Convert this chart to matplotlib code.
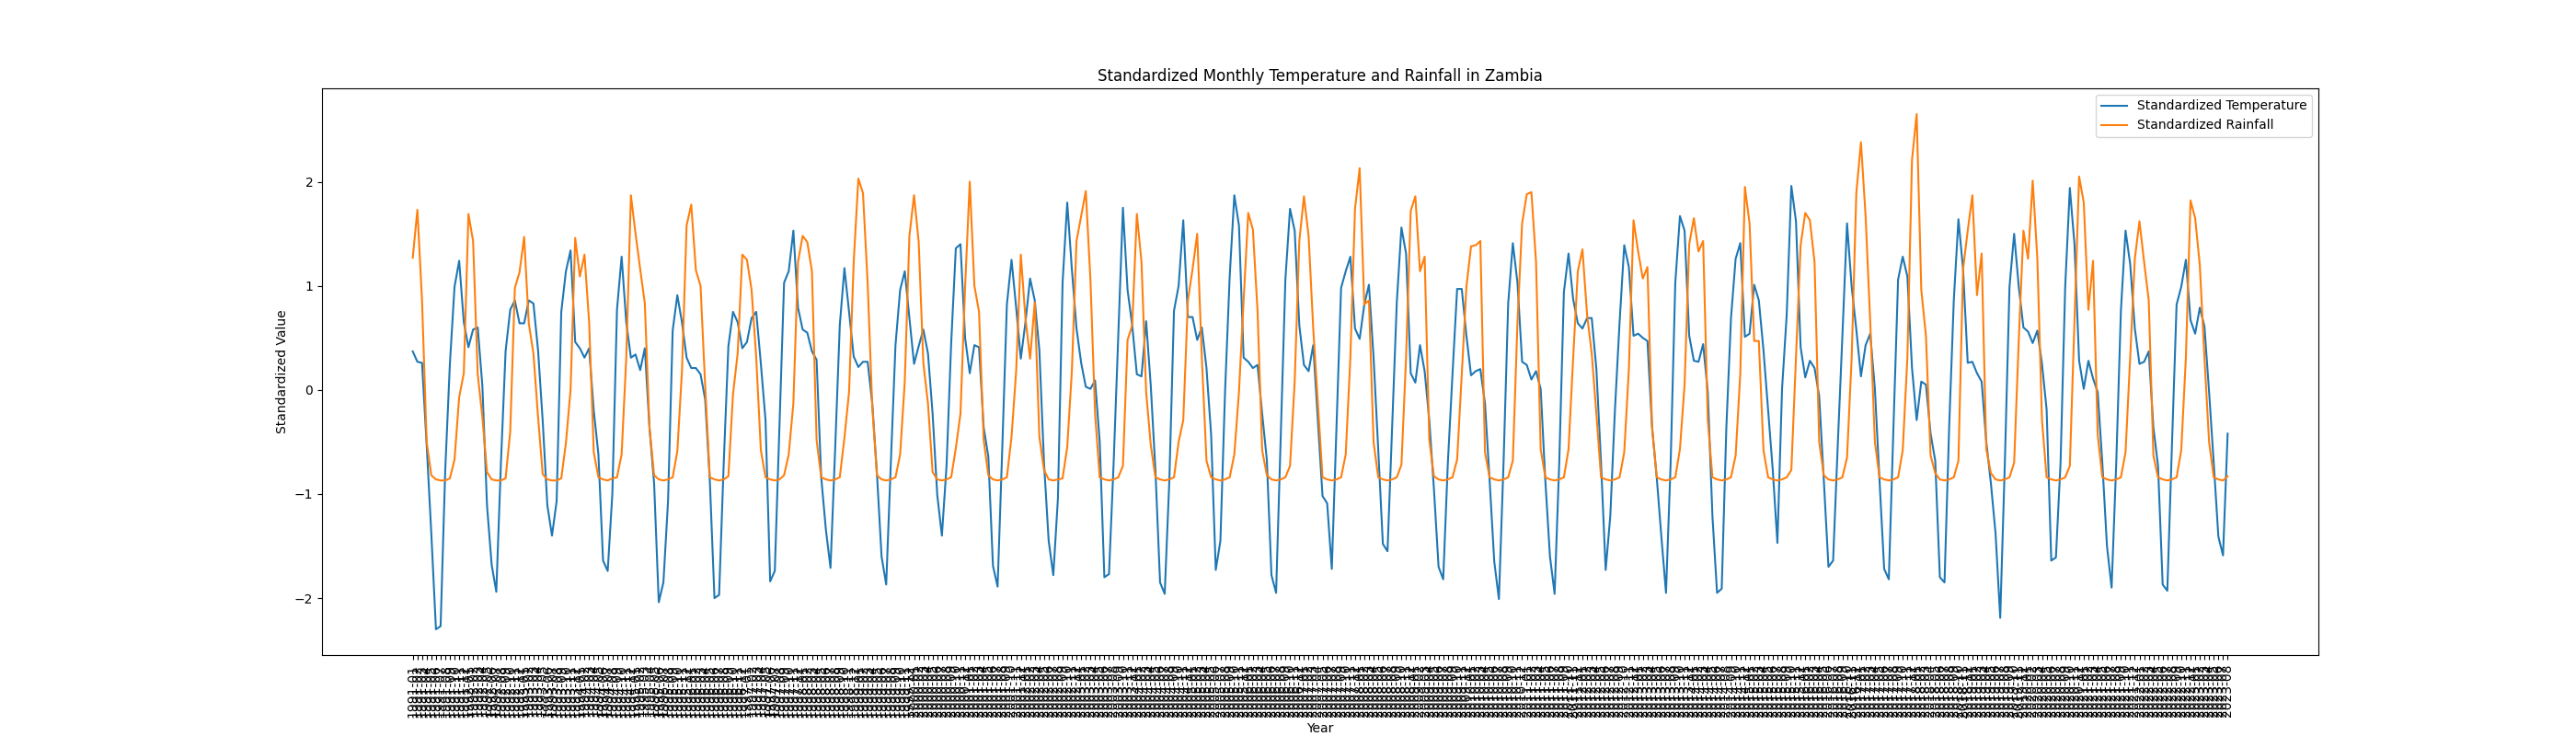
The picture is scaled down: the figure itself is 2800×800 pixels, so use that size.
import numpy as np
import pandas as pd
import matplotlib
matplotlib.use("Agg")
import matplotlib.pyplot as plt

# Monthly dates, Jan 1991 - Aug 2023
dates = pd.date_range("1991-01-01", "2023-08-01", freq="MS").strftime("%Y-%m").tolist()

# standardized temperature (one row per year)
temperature = [
    0.37, 0.27, 0.26, -0.53, -1.38, -2.30, -2.27, -0.77, 0.25, 0.99, 1.24, 0.65,
    0.41, 0.58, 0.60, 0.04, -1.11, -1.68, -1.94, -0.70, 0.37, 0.77, 0.86, 0.64,
    0.64, 0.86, 0.83, 0.38, -0.30, -1.11, -1.40, -1.07, 0.75, 1.14, 1.34, 0.46,
    0.40, 0.31, 0.40, -0.20, -0.62, -1.64, -1.74, -1.00, 0.77, 1.28, 0.65, 0.31,
    0.34, 0.19, 0.40, -0.36, -0.90, -2.04, -1.85, -1.07, 0.57, 0.91, 0.65, 0.31,
    0.21, 0.21, 0.15, -0.09, -0.87, -2.00, -1.97, -0.70, 0.42, 0.75, 0.65, 0.40,
    0.46, 0.69, 0.75, 0.25, -0.29, -1.84, -1.74, -0.36, 1.03, 1.14, 1.53, 0.79,
    0.58, 0.55, 0.37, 0.29, -0.84, -1.34, -1.71, -0.57, 0.62, 1.17, 0.75, 0.32,
    0.22, 0.27, 0.27, -0.13, -0.80, -1.60, -1.87, -0.70, 0.43, 0.96, 1.14, 0.69,
    0.25, 0.42, 0.58, 0.35, -0.23, -1.01, -1.40, -0.73, 0.45, 1.36, 1.40, 0.50,
    0.16, 0.43, 0.41, -0.36, -0.64, -1.69, -1.89, -0.57, 0.82, 1.25, 0.79, 0.30,
    0.65, 1.07, 0.86, 0.38, -0.70, -1.45, -1.78, -1.04, 1.03, 1.80, 1.16, 0.59,
    0.26, 0.03, 0.01, 0.09, -0.50, -1.80, -1.77, -0.70, 0.52, 1.75, 0.96, 0.62,
    0.15, 0.13, 0.66, 0.04, -0.77, -1.85, -1.96, -0.87, 0.76, 1.00, 1.63, 0.70,
    0.70, 0.48, 0.60, 0.21, -0.43, -1.73, -1.45, -0.02, 1.09, 1.87, 1.58, 0.31,
    0.27, 0.21, 0.24, -0.23, -0.67, -1.78, -1.95, -0.43, 1.06, 1.74, 1.53, 0.62,
    0.24, 0.18, 0.43, -0.29, -1.02, -1.09, -1.72, -0.36, 0.98, 1.14, 1.28, 0.59,
    0.49, 0.82, 1.01, 0.31, -0.57, -1.48, -1.55, -0.36, 0.84, 1.56, 1.31, 0.16,
    0.07, 0.43, 0.18, -0.29, -0.95, -1.70, -1.82, -0.70, 0.15, 0.97, 0.97, 0.52,
    0.14, 0.18, 0.20, -0.13, -0.87, -1.65, -2.01, -0.70, 0.83, 1.41, 1.03, 0.27,
    0.24, 0.10, 0.18, 0.01, -0.87, -1.60, -1.96, -0.70, 0.94, 1.31, 0.87, 0.64,
    0.59, 0.69, 0.69, 0.20, -0.70, -1.73, -1.21, -0.19, 0.65, 1.39, 1.18, 0.52,
    0.54, 0.50, 0.47, -0.36, -0.84, -1.41, -1.95, -0.70, 1.03, 1.67, 1.53, 0.52,
    0.28, 0.27, 0.44, -0.02, -1.21, -1.95, -1.91, -0.36, 0.69, 1.26, 1.41, 0.51,
    0.54, 1.01, 0.86, 0.38, -0.19, -0.77, -1.47, 0.01, 0.72, 1.96, 1.62, 0.41,
    0.12, 0.28, 0.21, -0.06, -0.87, -1.70, -1.64, -0.53, 0.52, 1.60, 0.99, 0.58,
    0.13, 0.43, 0.54, 0.01, -0.87, -1.72, -1.82, -0.36, 1.06, 1.28, 1.09, 0.21,
    -0.29, 0.08, 0.05, -0.42, -0.68, -1.80, -1.85, -0.36, 0.86, 1.64, 1.16, 0.26,
    0.27, 0.16, 0.08, -0.50, -0.90, -1.38, -2.19, -0.70, 0.99, 1.50, 0.99, 0.60,
    0.56, 0.45, 0.57, 0.25, -0.19, -1.64, -1.61, -0.70, 0.99, 1.94, 1.40, 0.28,
    0.01, 0.28, 0.11, -0.02, -0.70, -1.50, -1.90, -0.70, 0.76, 1.53, 1.21, 0.59,
    0.25, 0.27, 0.37, -0.36, -0.73, -1.87, -1.93, -0.53, 0.82, 0.99, 1.25, 0.67,
    0.54, 0.79, 0.61, -0.02, -0.70, -1.41, -1.59, -0.42,
]

# standardized rainfall
rainfall = [
    1.27, 1.73, 0.86, -0.50, -0.82, -0.86, -0.87, -0.87, -0.85, -0.67, -0.07, 0.16,
    1.69, 1.43, 0.15, -0.26, -0.79, -0.86, -0.87, -0.87, -0.85, -0.40, 0.98, 1.13,
    1.47, 0.64, 0.35, -0.26, -0.81, -0.86, -0.87, -0.87, -0.85, -0.51, 0.00, 1.46,
    1.09, 1.30, 0.65, -0.60, -0.84, -0.86, -0.87, -0.85, -0.84, -0.62, 0.31, 1.87,
    1.50, 1.16, 0.83, -0.36, -0.82, -0.86, -0.87, -0.86, -0.84, -0.59, 0.18, 1.58,
    1.78, 1.15, 1.00, 0.04, -0.84, -0.86, -0.87, -0.86, -0.83, -0.04, 0.35, 1.30,
    1.25, 0.96, 0.31, -0.58, -0.84, -0.86, -0.87, -0.86, -0.82, -0.62, -0.13, 1.23,
    1.48, 1.42, 1.14, -0.48, -0.84, -0.86, -0.87, -0.86, -0.84, -0.46, -0.02, 1.23,
    2.03, 1.89, 1.03, -0.16, -0.82, -0.86, -0.87, -0.86, -0.84, -0.62, 0.08, 1.48,
    1.87, 1.42, 0.26, -0.13, -0.79, -0.86, -0.87, -0.86, -0.84, -0.56, -0.23, 0.99,
    2.00, 1.00, 0.75, -0.48, -0.82, -0.86, -0.87, -0.86, -0.84, -0.45, 0.18, 1.30,
    0.69, 0.30, 0.84, -0.45, -0.77, -0.86, -0.87, -0.86, -0.85, -0.55, 0.18, 1.43,
    1.67, 1.91, 1.06, -0.23, -0.84, -0.86, -0.87, -0.86, -0.84, -0.73, 0.48, 0.62,
    1.69, 1.23, -0.02, -0.53, -0.84, -0.86, -0.87, -0.86, -0.84, -0.50, -0.29, 0.86,
    1.16, 1.50, 0.31, -0.68, -0.84, -0.86, -0.87, -0.86, -0.84, -0.62, -0.02, 0.86,
    1.70, 1.54, 0.76, -0.58, -0.82, -0.86, -0.87, -0.86, -0.84, -0.73, 0.08, 1.43,
    1.86, 1.48, 0.59, -0.13, -0.84, -0.86, -0.87, -0.86, -0.84, -0.62, 0.31, 1.74,
    2.13, 0.82, 0.86, -0.50, -0.84, -0.86, -0.87, -0.86, -0.84, -0.72, 0.31, 1.72,
    1.86, 1.14, 1.28, -0.48, -0.83, -0.86, -0.87, -0.86, -0.84, -0.67, 0.15, 0.99,
    1.38, 1.39, 1.43, -0.60, -0.84, -0.86, -0.87, -0.86, -0.84, -0.68, 0.65, 1.60,
    1.88, 1.90, 1.23, -0.57, -0.84, -0.86, -0.87, -0.86, -0.84, -0.57, 0.31, 1.14,
    1.35, 0.72, 0.35, -0.23, -0.84, -0.86, -0.87, -0.86, -0.84, -0.60, 0.20, 1.63,
    1.33, 1.07, 1.18, -0.36, -0.84, -0.86, -0.87, -0.86, -0.84, -0.57, 0.05, 1.40,
    1.65, 1.33, 1.43, -0.29, -0.84, -0.86, -0.87, -0.86, -0.84, -0.63, 0.15, 1.95,
    1.60, 0.47, 0.47, -0.58, -0.84, -0.86, -0.87, -0.86, -0.84, -0.77, 0.31, 1.39,
    1.70, 1.63, 1.23, -0.50, -0.82, -0.86, -0.87, -0.86, -0.84, -0.65, 0.31, 1.89,
    2.38, 1.67, 0.65, -0.50, -0.84, -0.86, -0.87, -0.86, -0.84, -0.58, 0.31, 2.21,
    2.65, 0.96, 0.52, -0.63, -0.80, -0.86, -0.87, -0.86, -0.84, -0.68, 1.16, 1.53,
    1.87, 0.91, 1.31, -0.57, -0.80, -0.86, -0.87, -0.86, -0.84, -0.70, 0.48, 1.53,
    1.26, 2.01, 1.26, -0.29, -0.84, -0.86, -0.87, -0.86, -0.84, -0.73, 0.65, 2.05,
    1.80, 0.77, 1.24, -0.43, -0.84, -0.86, -0.87, -0.86, -0.84, -0.60, 0.31, 1.26,
    1.62, 1.23, 0.86, -0.63, -0.84, -0.86, -0.87, -0.86, -0.84, -0.58, 0.31, 1.82,
    1.65, 1.20, 0.31, -0.50, -0.84, -0.86, -0.87, -0.83,
]

fig, ax = plt.subplots(figsize=(28, 8), dpi=100)
ax.plot(dates, temperature, label="Standardized Temperature")
ax.plot(dates, rainfall, label="Standardized Rainfall")
ax.set_title("Standardized Monthly Temperature and Rainfall in Zambia")
ax.set_xlabel("Year")
ax.set_ylabel("Standardized Value")
ax.legend(loc="upper right")
plt.xticks(rotation=90)

fig.savefig("out.png")
